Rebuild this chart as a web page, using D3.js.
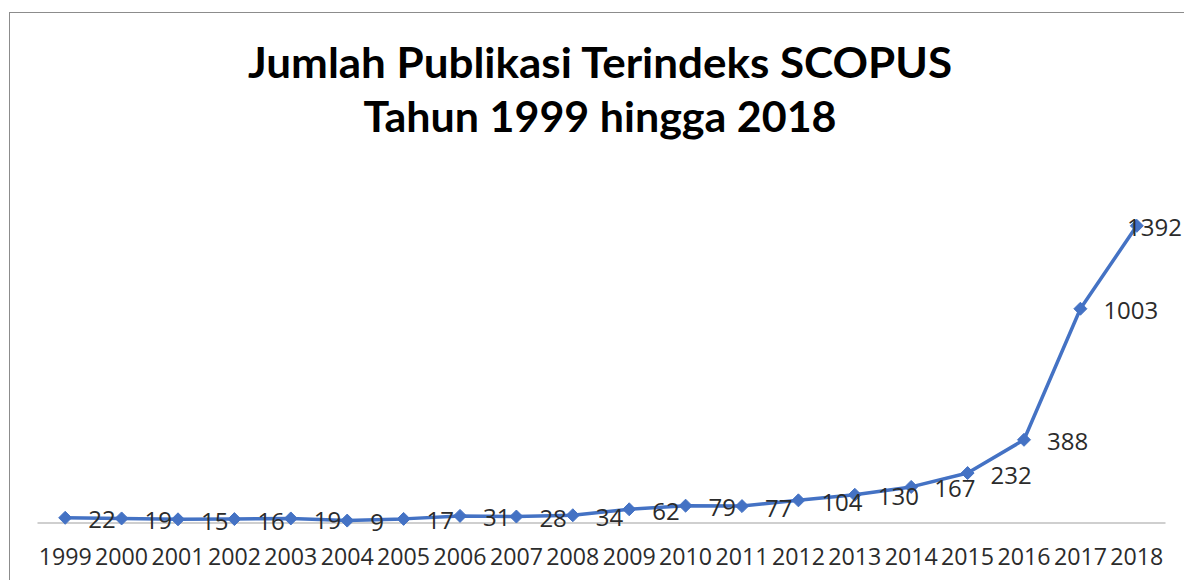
<!DOCTYPE html>
<html>
<head>
<meta charset="utf-8">
<script src="https://cdn.jsdelivr.net/npm/d3@7"></script>
<style>
  html, body { margin: 0; padding: 0; background: #fff; }
  svg { display: block; }
</style>
</head>
<body>
<svg id="chart" width="1184" height="580"></svg>
<script>
const years = ["1999","2000","2001","2002","2003","2004","2005","2006","2007","2008",
               "2009","2010","2011","2012","2013","2014","2015","2016","2017","2018"];
const publications = [22, 19, 15, 16, 19, 9, 17, 31, 28, 34,
                      62, 79, 77, 104, 130, 167, 232, 388, 1003, 1392];
const titleLines = ["Jumlah Publikasi Terindeks SCOPUS", "Tahun 1999 hingga 2018"];
const yDomain = [0, 1600];

const svg = d3.select("#chart");
const W = 1184, H = 580;

// chart border (extends past the cropped right / bottom edges)
svg.append("rect")
  .attr("x", 9.5).attr("y", 12.5)
  .attr("width", W + 20).attr("height", H + 20)
  .attr("fill", "#fff").attr("stroke", "#8c8c8c").attr("stroke-width", 1);

// title
const titleSpecs = [{y: 78, len: 704}, {y: 132, len: 473}];
svg.append("g").selectAll("text").data(titleLines).join("text")
  .attr("x", 600)
  .attr("y", (d, i) => titleSpecs[i].y)
  .attr("text-anchor", "middle")
  .attr("font-family", "Lato, 'Open Sans', sans-serif")
  .attr("font-weight", "bold")
  .attr("font-size", 42)
  .attr("fill", "#000")
  .attr("textLength", (d, i) => titleSpecs[i].len)
  .attr("lengthAdjust", "spacingAndGlyphs")
  .text(d => d);

// scales
const x = d3.scaleBand().domain(years).range([37, 1165]).padding(0);
const cx = d => x(d) + x.bandwidth() / 2;
const y = d3.scaleLinear().domain(yDomain).range([522.5, 181.5]);

// x axis
const xAxis = d3.axisBottom(x).tickSize(0).tickPadding(0);
const gx = svg.append("g").attr("transform", `translate(0,${y(0)})`).call(xAxis);
gx.select(".domain").attr("stroke", "#a0a0a0").attr("stroke-width", 1.2);
gx.selectAll(".tick text")
  .attr("dy", null)
  .attr("y", 42)
  .attr("font-family", "'Open Sans', sans-serif")
  .attr("font-size", 23)
  .attr("fill", "#2b2b2b")
  .attr("textLength", 53)
  .attr("lengthAdjust", "spacingAndGlyphs");

const data = years.map((yr, i) => ({year: yr, value: publications[i]}));

// line
svg.append("path")
  .datum(data)
  .attr("fill", "none")
  .attr("stroke", "#4472C4")
  .attr("stroke-width", 3.5)
  .attr("stroke-linejoin", "round")
  .attr("d", d3.line().x(d => cx(d.year)).y(d => y(d.value)));

// diamond markers
svg.append("g").selectAll("path").data(data).join("path")
  .attr("transform", d => `translate(${cx(d.year)},${y(d.value)})`)
  .attr("d", "M0,-6.5L6.5,0L0,6.5L-6.5,0Z")
  .attr("fill", "#4472C4")
  .attr("stroke", "#4472C4")
  .attr("stroke-width", 1);

// data labels (right of point, kept inside the chart area)
const labels = svg.append("g").selectAll("text").data(data).join("text")
  .attr("font-family", "'Open Sans', sans-serif")
  .attr("font-size", 24)
  .attr("fill", "#2b2b2b")
  .attr("dominant-baseline", "central")
  .attr("y", d => y(d.value) + 1)
  .text(d => d.value);
labels.each(function(d) {
  const w = this.getComputedTextLength();
  const lx = Math.min(cx(d.year) + 23, 1182 - w);
  d3.select(this).attr("x", lx);
});
</script>
</body>
</html>
